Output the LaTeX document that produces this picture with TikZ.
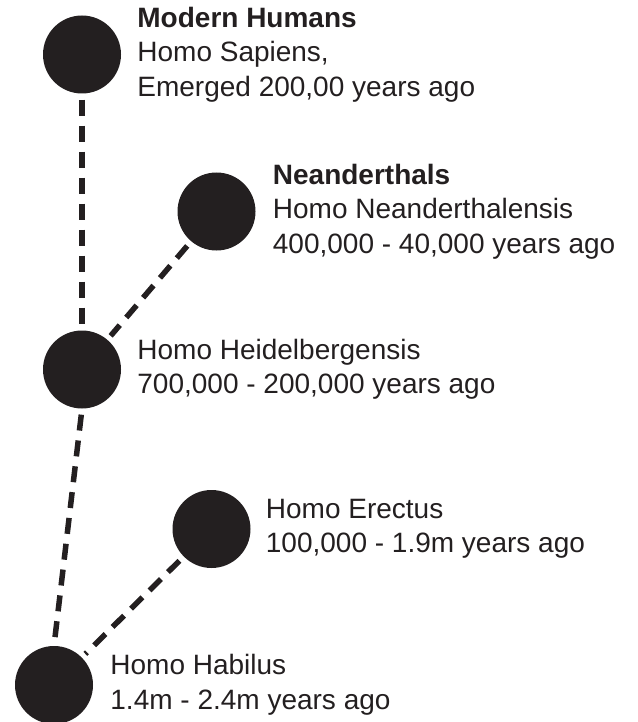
\documentclass[tikz,border=0pt]{standalone}
\usepackage{fontspec}
\setmainfont{Liberation Sans}
\usepackage{xcolor}
\usetikzlibrary{positioning}
\definecolor{ink}{HTML}{231F20}

\begin{document}
\begin{tikzpicture}[
  x=1pt, y=-1pt,
  dot/.style={circle, fill=ink, minimum size=78pt, inner sep=0pt},
  info/.style={anchor=west, align=left, inner sep=0pt, text=ink,
               font=\fontsize{28}{34.5}\selectfont},
  link/.style={draw=ink, line width=5.5pt, dash pattern=on 16pt off 10pt,
               shorten <=6pt, shorten >=5pt},
]
\useasboundingbox (0,0) rectangle (637,722);

% ---------------- species (circles) ----------------
\node[dot] (modern)  at (82,54.5)    {};
\node[dot] (neander) at (216.5,211.5) {};
\node[dot] (heidel)  at (82,369.5)   {};
\node[dot] (erectus) at (211.5,529)  {};
\node[dot] (habilus) at (54,685)     {};

% ---------------- labels ----------------
\node[info, right=16pt of modern]  (modern-t)  {\textbf{Modern Humans}\\Homo Sapiens,\\Emerged 200,00 years ago};
\node[info, right=17pt of neander] (neander-t) {\textbf{Neanderthals}\\Homo Neanderthalensis\\400,000 - 40,000 years ago};
\node[info, right=16pt of heidel]  (heidel-t)  {Homo Heidelbergensis\\700,000 - 200,000 years ago};
\node[info, right=15pt of erectus] (erectus-t) {Homo Erectus\\100,000 - 1.9m years ago};
\node[info, right=17pt of habilus] (habilus-t) {Homo Habilus\\1.4m - 2.4m years ago};

% ---------------- lineage (dashed) ----------------
\draw[link] (modern.south) -- (heidel.north);
\draw[link] (neander) -- (heidel);
\draw[link] (heidel.south) -- (habilus.north);
\draw[link] (erectus) -- (habilus);

\end{tikzpicture}
\end{document}
